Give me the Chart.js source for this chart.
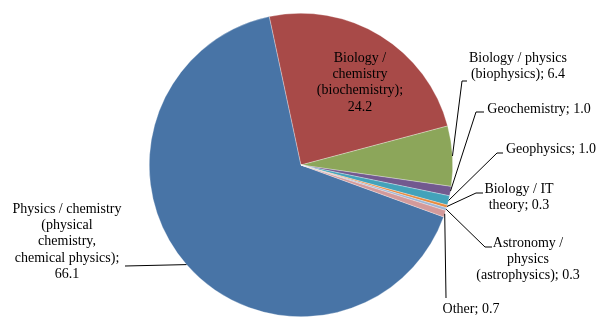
<!DOCTYPE html>
<html>
<head>
<meta charset="utf-8">
<script src="https://cdn.jsdelivr.net/npm/chart.js@4.4.1/dist/chart.umd.min.js"></script>
<style>
  html, body { margin: 0; padding: 0; background: #fff; }
  #wrap { width: 607px; height: 326px; position: relative; }
</style>
</head>
<body>
<div id="wrap"><canvas id="fieldChart"></canvas></div>
<script>
// share of publications per field
const categories = [
  'Physics / chemistry (physical chemistry, chemical physics)',
  'Biology / chemistry (biochemistry)',
  'Biology / physics (biophysics)',
  'Geochemistry',
  'Geophysics',
  'Biology / IT theory',
  'Astronomy / physics (astrophysics)',
  'Other'
];
const values = [66.1, 24.2, 6.4, 1.0, 1.0, 0.3, 0.3, 0.7];
const colors = ['#4874a6', '#a84a48', '#8ca65a', '#72598f', '#43a2ba', '#e98a3d', '#9db5d6', '#d39a9b'];

// wrapped label lines, {v} is replaced by the value
const labelLines = [
  ['Physics / chemistry', '(physical', 'chemistry,', 'chemical physics);', '{v}'],
  ['Biology /', 'chemistry', '(biochemistry);', '{v}'],
  ['Biology / physics', '(biophysics); {v}'],
  ['Geochemistry; {v}'],
  ['Geophysics; {v}'],
  ['Biology / IT', 'theory; {v}'],
  ['Astronomy /', 'physics', '(astrophysics); {v}'],
  ['Other; {v}']
];
// label centre (x, y of first line) and leader path points
const labelPos = [
  { x: 67, y: 209, leader: [[125, 266]] },
  { x: 360, y: 58, leader: null },
  { x: 518, y: 58, leader: [[462, 81], [467, 81]] },
  { x: 539, y: 109, leader: [[476, 112], [484, 112]] },
  { x: 551, y: 149, leader: [[497, 153], [503, 153]] },
  { x: 519, y: 189, leader: [[476, 193], [483, 193]] },
  { x: 528, y: 243, leader: [[485, 247], [492, 247]] },
  { x: 471, y: 309, leader: [[446, 298]] }
];
const lineH = 16.4;

const pieLabels = {
  id: 'pieLabels',
  afterDatasetsDraw(chart) {
    const ctx = chart.ctx;
    const arcs = chart.getDatasetMeta(0).data;
    ctx.save();
    ctx.font = '14px "Liberation Serif", "Times New Roman", serif';
    ctx.fillStyle = '#000';
    ctx.strokeStyle = '#000';
    ctx.lineWidth = 1;
    ctx.textAlign = 'center';
    ctx.textBaseline = 'middle';
    arcs.forEach((arc, i) => {
      const p = labelPos[i];
      if (p.leader) {
        const mid = (arc.startAngle + arc.endAngle) / 2;
        const ex = arc.x + Math.cos(mid) * arc.outerRadius;
        const ey = arc.y + Math.sin(mid) * arc.outerRadius;
        ctx.beginPath();
        ctx.moveTo(ex, ey);
        p.leader.forEach(pt => ctx.lineTo(pt[0], pt[1]));
        ctx.stroke();
      }
      labelLines[i].forEach((t, k) => {
        const txt = t.replace('{v}', values[i].toFixed(1));
        ctx.fillText(txt, p.x, p.y + k * lineH);
      });
    });
    ctx.restore();
  }
};

new Chart(document.getElementById('fieldChart'), {
  type: 'pie',
  data: {
    labels: categories,
    datasets: [{
      data: values,
      backgroundColor: colors,
      borderColor: 'rgba(255,255,255,0.6)',
      borderWidth: 0.5
    }]
  },
  options: {
    responsive: true,
    maintainAspectRatio: false,
    animation: false,
    rotation: 110,
    layout: { padding: { left: 149, right: 154, top: 13, bottom: 9 } },
    plugins: {
      legend: { display: false },
      tooltip: { enabled: false }
    }
  },
  plugins: [pieLabels]
});
</script>
</body>
</html>
